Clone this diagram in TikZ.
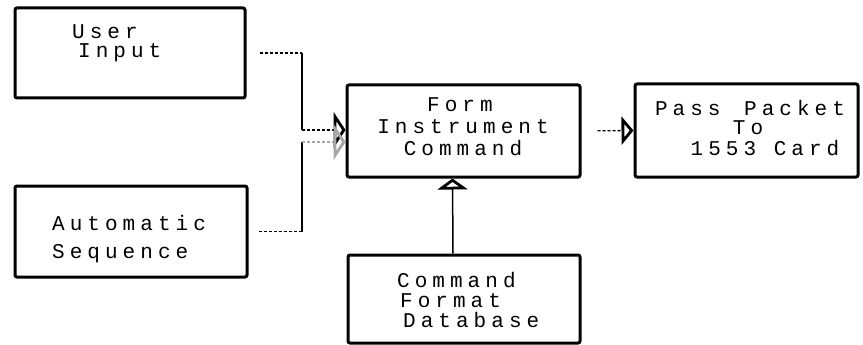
\documentclass[tikz,border=0pt]{standalone}
\usepackage{fontspec}
\newfontfamily\plotfont[LetterSpace=24]{Liberation Mono}
\usetikzlibrary{arrows.meta}

\begin{document}
\begin{tikzpicture}[x=1pt, y=-1pt,
          blk/.style={draw, line width=3pt, rounded corners=2pt, inner sep=0pt},
          lbl/.style={font=\plotfont\fontsize{21}{24}\selectfont, inner sep=0pt},
          feed/.style={line width=1.3pt, dash pattern=on 3pt off 2pt},
          bus/.style={line width=1.5pt},
          bigtip/.style={-{Triangle[open, length=12pt, width=36pt, line width=2.8pt]}},
          smalltip/.style={-{Triangle[open, length=12pt, width=28pt, line width=2.8pt]}}]
        \useasboundingbox (0,0) rectangle (863,345);
        % boxes
        \node[blk, minimum width=230pt, minimum height=90pt] (user) at (130,53) {};
        \node[blk, minimum width=232pt, minimum height=91pt] (auto) at (131,231.5) {};
        \node[blk, minimum width=233pt, minimum height=92pt] (form) at (463.5,131) {};
        \node[blk, minimum width=223pt, minimum height=93pt] (pass) at (746.5,130.5) {};
        \node[blk, minimum width=232pt, minimum height=88pt] (db) at (464,299) {};
        % box texts, one node per line
        \node[lbl, anchor=base west] (user1) at (72,39) {User};
        \node[lbl, anchor=base west] (user2) at (78,58) {Input};
        \node[lbl, anchor=base west] (auto1) at (52,230) {Automatic};
        \node[lbl, anchor=base west] (auto2) at (52,258) {Sequence};
        \node[lbl, anchor=base] (form1) at (460,112) {Form};
        \node[lbl, anchor=base] (form2) at (463,133) {Instrument};
        \node[lbl, anchor=base] (form3) at (463,155) {Command};
        \node[lbl, anchor=base] (pass1) at (750,115) {Pass\hspace{6pt} Packet};
        \node[lbl, anchor=base] (pass2) at (748,135) {To};
        \node[lbl, anchor=base] (pass3) at (765,155) {1553 Card};
        \node[lbl, anchor=base west] (db1) at (397,287) {Command};
        \node[lbl, anchor=base west] (db2) at (400,307) {Format};
        \node[lbl, anchor=base west] (db3) at (403,327) {Database};
        % bus from the two sources
        \coordinate (j1) at (302,53);
        \coordinate (j2) at (302,130);
        \coordinate (j3) at (302,142);
        \coordinate (j4) at (302,231.5);
        \draw[feed, shorten <=13pt] (user.east) -- (j1);
        \draw[bus] (j1) -- (j2);
        \draw[feed, bigtip] (j2) -- (j2 -| form.west);
        \draw[feed, shorten <=10pt] (auto.east) -- (j4);
        \draw[bus] (j4) -- (j3);
        \draw[feed, draw=black!35, bigtip] (j3) -- (j3 -| form.west);
        % out to the card and in from the database
        \draw[feed, smalltip, shorten <=16pt] (form.east) -- (pass.west);
        \draw[bus, -{Triangle[open, length=11pt, width=30pt, line width=2.8pt]}]
          ([xshift=-11pt]db.north) -- ([xshift=-11pt]form.south);
\end{tikzpicture}
\end{document}
